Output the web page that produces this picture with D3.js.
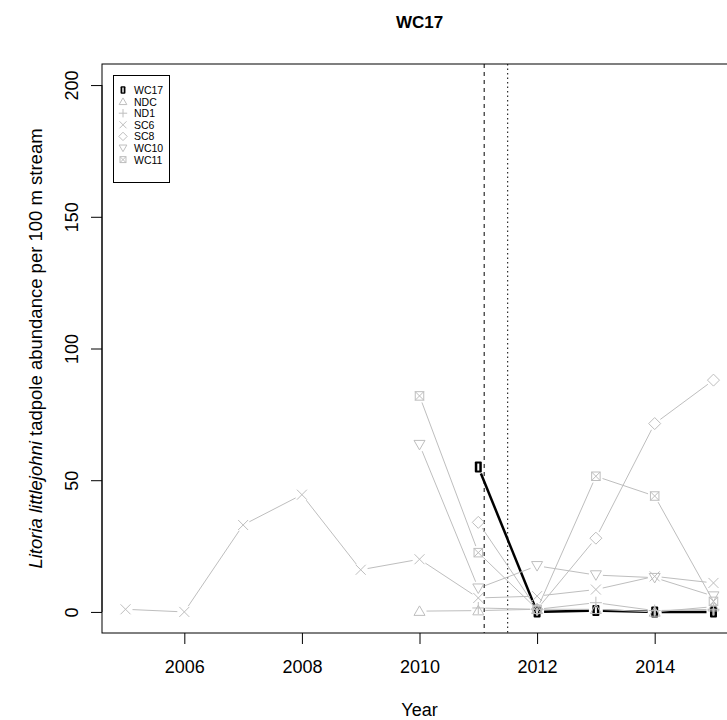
<!DOCTYPE html>
<html>
<head>
<meta charset="utf-8">
<script src="https://cdn.jsdelivr.net/npm/d3@7"></script>
<style>
  html, body { margin: 0; padding: 0; background: #fff; }
  svg { display: block; font-family: "Liberation Sans", Arial, sans-serif; }
</style>
</head>
<body>
<svg id="chart" width="727" height="720"></svg>
<script>
// Survey years and tadpole abundance per site (null = not surveyed)
const years = [2005, 2006, 2007, 2008, 2009, 2010, 2011, 2012, 2013, 2014, 2015];
const siteNames = ["WC17", "NDC", "ND1", "SC6", "SC8", "WC10", "WC11"];
const wc17 = [null, null, null, null, null, null, 55, 0, 0.5, 0, 0];
const ndc  = [null, null, null, null, null, 0.3, 0.5, 1, 1, 0, 2];
const nd1  = [null, null, null, null, null, null, 1.5, 1, 3.5, 0.5, 1];
const sc6  = [1, 0, 33, 44.5, 16, 20, 5.3, 6, 8.5, 13.5, 11];
const sc8  = [null, null, null, null, null, null, 34, 1, 28, 71.5, 88];
const wc10 = [null, null, null, null, null, 63.5, 9, 17.5, 14, 13, 6];
const wc11 = [null, null, null, null, null, 82, 22.5, 1, 51.5, 44, 4];
const xTicks = [2006, 2008, 2010, 2012, 2014];
const yTicks = [0, 50, 100, 150, 200];
// Reference dates marked by vertical lines
const dashedYear = 2011.1;
const dottedYear = 2011.5;

const svg = d3.select("#chart");
const pLeft = 102, pRight = 737, pTop = 64, pBottom = 633;

const x = d3.scaleLinear().domain([2004.6, 2015.4]).range([pLeft, pRight]);
const y = d3.scaleLinear().domain([-8, 208]).range([pBottom, pTop]);

const grey = "#bebebe";
const axisFont = 18;

// Title
svg.append("text").attr("x", (pLeft + pRight) / 2).attr("y", 28)
  .attr("text-anchor", "middle").attr("font-weight", "bold").attr("font-size", 17)
  .text("WC17");

// Axes
const xAxis = d3.axisBottom(x).tickValues(xTicks).tickFormat(d3.format("d")).tickSize(11);
const gx = svg.append("g").attr("transform", `translate(0,${pBottom})`).call(xAxis);
gx.select(".domain").remove();
gx.selectAll("line").attr("stroke", "#000");
gx.selectAll("text")
  .attr("font-size", axisFont).attr("font-family", "Liberation Sans, Arial, sans-serif").attr("fill", "#000")
  .attr("y", 40).attr("dy", null);

const yAxis = d3.axisLeft(y).tickValues(yTicks).tickSize(11);
const gy = svg.append("g").attr("transform", `translate(${pLeft},0)`).call(yAxis);
gy.select(".domain").remove();
gy.selectAll("line").attr("stroke", "#000");
gy.selectAll("text")
  .attr("font-size", axisFont).attr("font-family", "Liberation Sans, Arial, sans-serif").attr("fill", "#000")
  .attr("text-anchor", "middle").attr("x", 0).attr("dy", null)
  .attr("transform", "translate(-24,0) rotate(-90)");
gy.append("line").attr("x1", 0).attr("x2", 0).attr("y1", y(0)).attr("y2", y(200)).attr("stroke", "#000");

// Axis titles
svg.append("text").attr("x", (pLeft + pRight) / 2).attr("y", 716)
  .attr("text-anchor", "middle").attr("font-size", axisFont).text("Year");
const yl = svg.append("text")
  .attr("transform", `translate(42,${(pTop + pBottom) / 2}) rotate(-90)`)
  .attr("text-anchor", "middle").attr("font-size", 18.5);
yl.append("tspan").attr("font-style", "italic").text("Litoria littlejohni");
yl.append("tspan").text(" tadpole abundance per 100 m stream");

// Plot box
svg.append("rect").attr("x", pLeft).attr("y", pTop).attr("width", pRight - pLeft).attr("height", pBottom - pTop)
  .attr("fill", "none").attr("stroke", "#000");

const plot = svg.append("g");

// Vertical reference lines
plot.append("line").attr("x1", x(dashedYear)).attr("x2", x(dashedYear)).attr("y1", pTop).attr("y2", pBottom)
  .attr("stroke", "#000").attr("stroke-dasharray", "4,4");
plot.append("line").attr("x1", x(dottedYear)).attr("x2", x(dottedYear)).attr("y1", pTop).attr("y2", pBottom)
  .attr("stroke", "#000").attr("stroke-dasharray", "1.5,3");

// Marker shapes
function marker(g, shape, cx, cy, s, color) {
  const h = s / 2;
  const sw = 1;
  if (shape === "wc17") {
    g.append("rect").attr("x", cx - 3.5 * s / 10).attr("y", cy - 5.5 * s / 10).attr("width", 7 * s / 10).attr("height", 11 * s / 10)
      .attr("rx", 1).attr("fill", "#000");
    g.append("rect").attr("x", cx - 1 * s / 10).attr("y", cy - 3.5 * s / 10).attr("width", 2 * s / 10).attr("height", 7 * s / 10)
      .attr("fill", "#fff");
  } else if (shape === "triUp") {
    g.append("path").attr("d", `M${cx},${cy - h * 1.05} L${cx + h * 1.1},${cy + h * 0.85} L${cx - h * 1.1},${cy + h * 0.85} Z`)
      .attr("fill", "none").attr("stroke", color).attr("stroke-width", sw);
  } else if (shape === "triDown") {
    g.append("path").attr("d", `M${cx},${cy + h * 1.05} L${cx + h * 1.1},${cy - h * 0.85} L${cx - h * 1.1},${cy - h * 0.85} Z`)
      .attr("fill", "none").attr("stroke", color).attr("stroke-width", sw);
  } else if (shape === "plus") {
    g.append("path").attr("d", `M${cx - h * 1.2},${cy} H${cx + h * 1.2} M${cx},${cy - h * 1.2} V${cy + h * 1.2}`)
      .attr("stroke", color).attr("stroke-width", sw);
  } else if (shape === "cross") {
    g.append("path").attr("d", `M${cx - h},${cy - h} L${cx + h},${cy + h} M${cx - h},${cy + h} L${cx + h},${cy - h}`)
      .attr("stroke", color).attr("stroke-width", sw);
  } else if (shape === "diamond") {
    const d = h * 1.2;
    g.append("path").attr("d", `M${cx},${cy - d} L${cx + d},${cy} L${cx},${cy + d} L${cx - d},${cy} Z`)
      .attr("fill", "none").attr("stroke", color).attr("stroke-width", sw);
  } else if (shape === "crossBox") {
    const b = h * 0.85;
    g.append("rect").attr("x", cx - b).attr("y", cy - b).attr("width", 2 * b).attr("height", 2 * b)
      .attr("fill", "none").attr("stroke", color).attr("stroke-width", sw);
    g.append("path").attr("d", `M${cx - b},${cy - b} L${cx + b},${cy + b} M${cx - b},${cy + b} L${cx + b},${cy - b}`)
      .attr("stroke", color).attr("stroke-width", sw);
  }
}

// WC17 is drawn first so the grey sites sit on top of it
const series = [
  { name: "WC17", values: wc17, shape: "wc17",     color: "#000", lw: 2.5 },
  { name: "NDC",  values: ndc,  shape: "triUp",    color: grey, lw: 1 },
  { name: "ND1",  values: nd1,  shape: "plus",     color: grey, lw: 1 },
  { name: "SC6",  values: sc6,  shape: "cross",    color: grey, lw: 1 },
  { name: "SC8",  values: sc8,  shape: "diamond",  color: grey, lw: 1 },
  { name: "WC10", values: wc10, shape: "triDown",  color: grey, lw: 1 },
  { name: "WC11", values: wc11, shape: "crossBox", color: grey, lw: 1 }
];

// Points joined by lines with a small gap around each point
const gap = 7;
series.forEach(s => {
  const pts = years.map((yr, i) => ({ yr, v: s.values[i] })).filter(p => p.v !== null)
    .map(p => ({ px: x(p.yr), py: y(p.v) }));
  const g = plot.append("g");
  for (let i = 0; i < pts.length - 1; i++) {
    const a = pts[i], b = pts[i + 1];
    const dx = b.px - a.px, dy = b.py - a.py, len = Math.hypot(dx, dy);
    if (len <= 2 * gap) continue;
    const ux = dx / len, uy = dy / len;
    g.append("line")
      .attr("x1", a.px + ux * gap).attr("y1", a.py + uy * gap)
      .attr("x2", b.px - ux * gap).attr("y2", b.py - uy * gap)
      .attr("stroke", s.color).attr("stroke-width", s.lw);
  }
  pts.forEach(p => marker(g, s.shape, p.px, p.py, 10, s.color));
});

// Legend
const leg = svg.append("g");
leg.append("rect").attr("x", 113.5).attr("y", 75.5).attr("width", 56).attr("height", 107)
  .attr("fill", "#fff").attr("stroke", "#000");
siteNames.forEach((nm, i) => {
  const s = series.find(d => d.name === nm);
  const cy = 90 + i * 11.6;
  marker(leg, s.shape, 123, cy, 7, s.color);
  leg.append("text").attr("x", 134).attr("y", cy + 4).attr("font-size", 10.5).text(nm);
});
</script>
</body>
</html>
